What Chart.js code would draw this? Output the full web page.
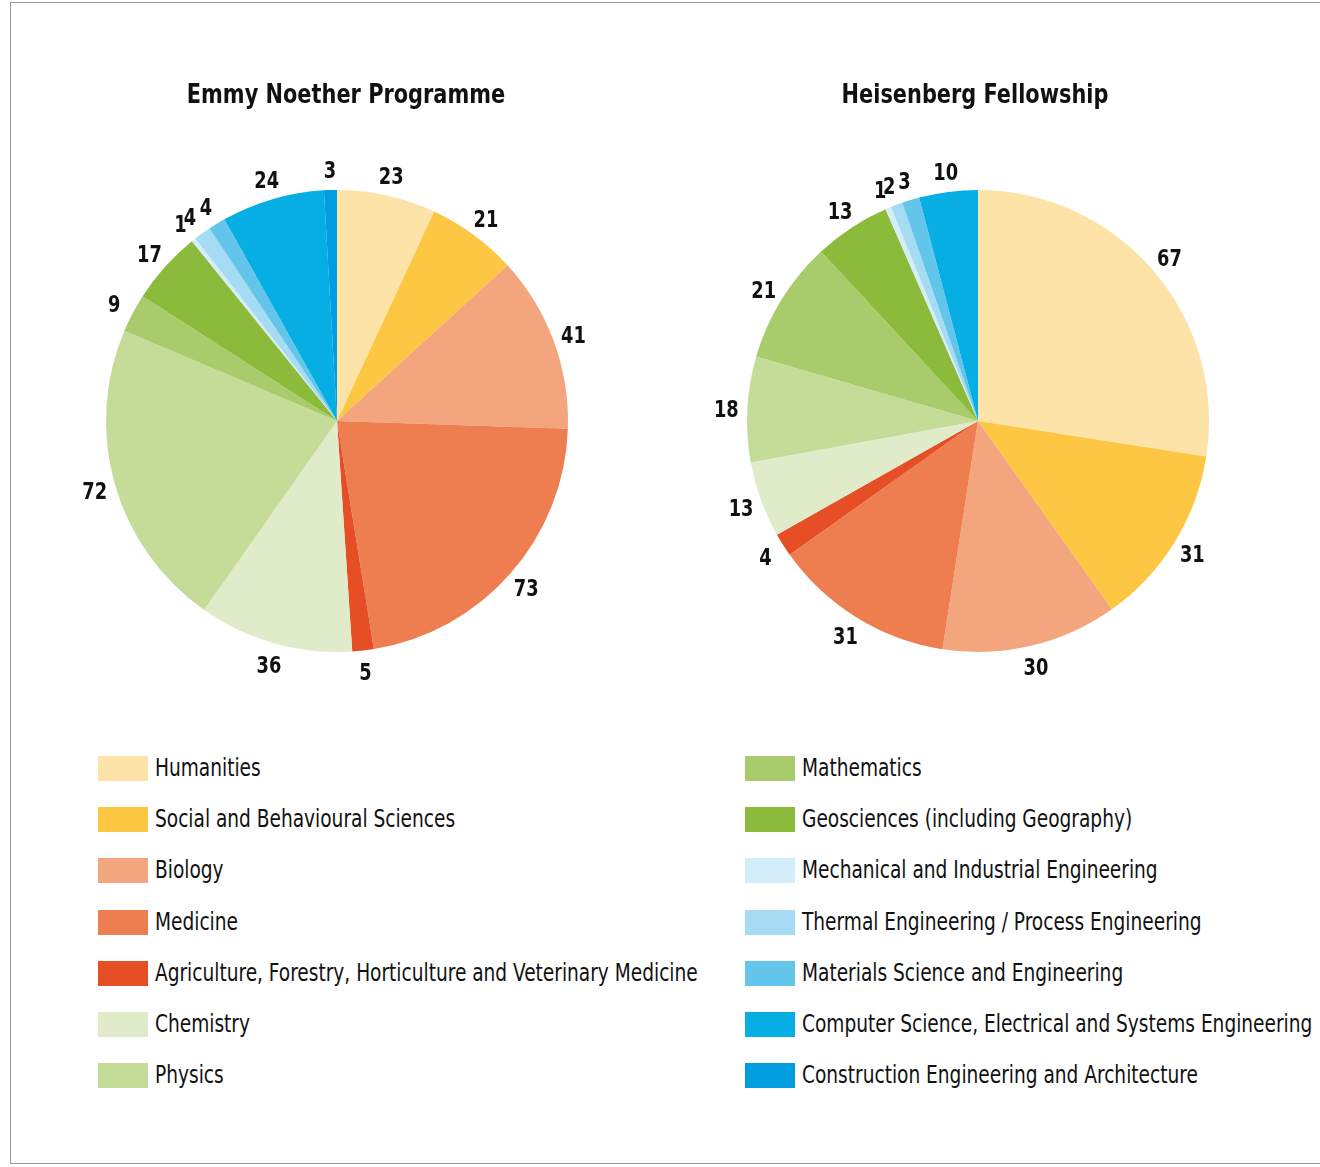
<!DOCTYPE html>
<html>
<head>
<meta charset="utf-8">
<script src="https://cdn.jsdelivr.net/npm/chart.js@4/dist/chart.umd.min.js"></script>
<style>
    body { margin: 0; background: #fff; font-family: 'DejaVu Sans Condensed', 'DejaVu Sans', sans-serif; }
    #frame { position: absolute; left: 10px; top: 2px; width: 1330px; height: 1160px; border: 1.5px solid #999; border-right: none; }
    .pie { position: absolute; top: 70px; width: 630px; height: 622px; }
    .legend { position: absolute; top: 756px; }
    .legend div { height: 51.2px; display: flex; align-items: flex-start; font-size: 24px; color: #111; white-space: nowrap; }
    .legend span.box { display: inline-block; width: 50px; height: 25px; margin-right: 7px; flex: none; }
    .legend span.txt { line-height: 25px; display: inline-block; transform: scaleX(0.86); transform-origin: left center; }
</style>
</head>
<body>
<div id="frame"></div>
<div class="pie" style="left:22px"><canvas id="emmyChart"></canvas></div>
<div class="pie" style="left:663px"><canvas id="heisenbergChart"></canvas></div>
<div class="legend" id="legendLeft" style="left:98px"></div>
<div class="legend" id="legendRight" style="left:745px"></div>

<script>
// Fachgebiete
const subjects = [
    "Humanities",
    "Social and Behavioural Sciences",
    "Biology",
    "Medicine",
    "Agriculture, Forestry, Horticulture and Veterinary Medicine",
    "Chemistry",
    "Physics",
    "Mathematics",
    "Geosciences (including Geography)",
    "Mechanical and Industrial Engineering",
    "Thermal Engineering / Process Engineering",
    "Materials Science and Engineering",
    "Computer Science, Electrical and Systems Engineering",
    "Construction Engineering and Architecture"
];

const colors = [
    "#FDE3A7", "#FDC743", "#F3A57E", "#EE7D50", "#E64E26",
    "#DFEBC9", "#C4DC98", "#A8CB6C", "#8CBB3C",
    "#D4EEF9", "#A6DBF4", "#63C5EA", "#06AEE4", "#009EE0"
];

// Werte
const emmyValues = [23, 21, 41, 73, 5, 36, 72, 9, 17, 1, 4, 4, 24, 3];
const heisenbergValues = [67, 31, 30, 31, 4, 13, 18, 21, 13, 1, 2, 3, 10, 0];

const FONT = "'DejaVu Sans Condensed', 'DejaVu Sans', sans-serif";
Chart.defaults.font.family = FONT;
Chart.defaults.color = "#111";

// text squeezed horizontally, the original uses a condensed face
function narrowText(ctx, text, x, y, sx) {
    ctx.save();
    ctx.translate(x, y);
    ctx.scale(sx, 1);
    ctx.fillText(text, 0, 0);
    ctx.restore();
}

// title + value labels outside the slices
const outsideLabels = {
    id: "outsideLabels",
    afterDatasetsDraw(chart, args, opts) {
        const ctx = chart.ctx;
        const values = chart.data.datasets[0].data;
        ctx.save();
        ctx.fillStyle = "#111";
        ctx.textAlign = "center";
        ctx.textBaseline = "alphabetic";

        ctx.font = "bold 27px " + FONT;
        narrowText(ctx, opts.title, chart.width / 2 + (opts.titleShift || 0), 33, 0.86);

        ctx.font = "bold 23px " + FONT;
        chart.getDatasetMeta(0).data.forEach((arc, i) => {
            if (!values[i]) return;
            const mid = (arc.startAngle + arc.endAngle) / 2;
            const r = arc.outerRadius + 21;
            const x = arc.x + Math.cos(mid) * r;
            const y = arc.y + Math.sin(mid) * r + 9;
            narrowText(ctx, String(values[i]), x, y, 0.86);
        });
        ctx.restore();
    }
};

function makePie(canvasId, title, values, titleShift) {
    new Chart(document.getElementById(canvasId), {
        type: "pie",
        data: {
            labels: subjects,
            datasets: [{
                data: values,
                backgroundColor: colors,
                borderWidth: 0
            }]
        },
        options: {
            responsive: true,
            maintainAspectRatio: false,
            animation: false,
            layout: { padding: { top: 120, bottom: 40, left: 84, right: 84 } },
            plugins: {
                legend: { display: false },
                tooltip: { enabled: false },
                outsideLabels: { title: title, titleShift: titleShift }
            }
        },
        plugins: [outsideLabels]
    });
}

function makeLegend(elId, from, to) {
    const el = document.getElementById(elId);
    for (let i = from; i < to; i++) {
        const row = document.createElement("div");
        row.innerHTML = `<span class="box" style="background:${colors[i]}"></span><span class="txt">${subjects[i]}</span>`;
        el.appendChild(row);
    }
}

makePie("emmyChart", "Emmy Noether Programme", emmyValues, 9);
makePie("heisenbergChart", "Heisenberg Fellowship", heisenbergValues, -3);
makeLegend("legendLeft", 0, 7);
makeLegend("legendRight", 7, 14);
</script>
</body>
</html>
